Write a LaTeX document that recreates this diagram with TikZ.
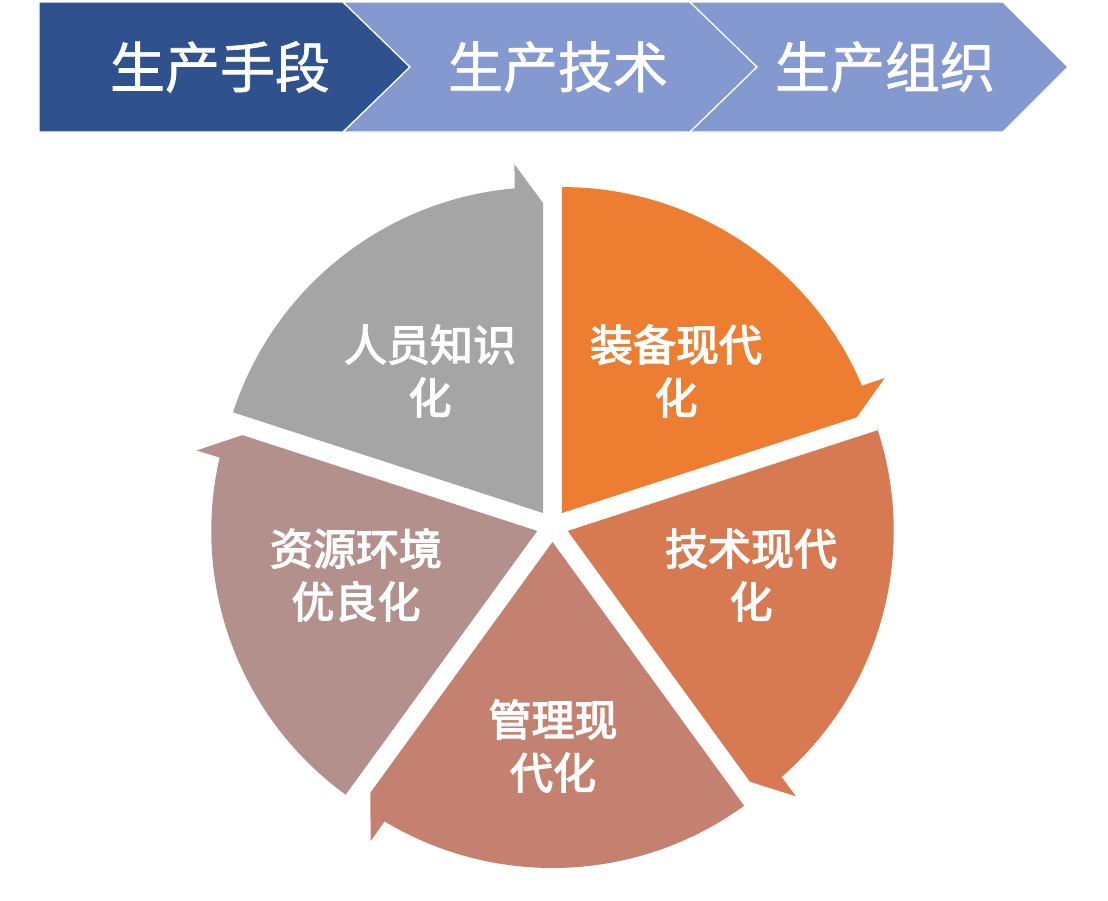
\documentclass[tikz,border=0pt]{standalone}
\usepackage{fontspec}
\newfontfamily\cjkh[FakeBold=1.2]{Noto Sans CJK SC}
\newfontfamily\cjkl[FakeBold=3]{Noto Sans CJK SC}
\definecolor{segA}{RGB}{237,125,49}
\definecolor{segB}{RGB}{216,122,81}
\definecolor{segC}{RGB}{197,129,112}
\definecolor{segD}{RGB}{180,144,140}
\definecolor{segE}{RGB}{165,165,165}
\definecolor{chevDark}{RGB}{47,82,143}
\definecolor{chevLight}{RGB}{131,153,207}
\begin{document}
\begin{tikzpicture}[x=1pt,y=1pt,
  chevdark/.style={fill=chevDark,draw=white,line width=1.2pt},
  chevlight/.style={fill=chevLight,draw=white,line width=1.2pt},
  hdr/.style={text=white,font=\cjkh\fontsize{55}{60}\selectfont,inner sep=0pt},
  seglabel/.style={text=white,font=\cjkl\fontsize{43}{53}\selectfont,align=center,inner sep=0pt}]
\useasboundingbox (0,0) rectangle (1108,-900);
\fill[white] (0,0) rectangle (1108,-900);
% chevrons
\path[chevdark] (39,-2) -- (343,-2) -- (410,-67) -- (343,-132) -- (39,-132) -- cycle;
\path[chevlight] (343,-2) -- (690,-2) -- (757,-67) -- (690,-132) -- (343,-132) -- (410,-67) -- cycle;
\path[chevlight] (690,-2) -- (1003,-2) -- (1068,-67) -- (1003,-132) -- (690,-132) -- (757,-67) -- cycle;
\node[hdr] (h1) at (220,-67) {生产手段};
\node[hdr] (h2) at (558,-67) {生产技术};
\node[hdr] (h3) at (885,-67) {生产组织};
% pie segments
\foreach \i/\col in {0/segA,1/segB,2/segC,3/segD,4/segE}{
  \pgfmathsetmacro\s{90-72*\i}
  \pgfmathsetmacro\e{\s-72}
  \pgfmathsetmacro\b{\s-36}
  \pgfmathsetmacro\n{\e+5}
  \pgfmathsetmacro\t{\e+4.7}
  \begin{scope}[shift={(552.5,-526)}, shift={(\b:16pt)}]
    \fill[\col] (0,0) -- (\s:326pt) arc[start angle=\s, end angle=\n, radius=326pt] -- (\t:350pt) -- (\e:310pt) -- cycle;
  \end{scope}
}
\node[seglabel] (l1) at (676,-371) {装备现代\\化};
\node[seglabel] (l2) at (751,-575) {技术现代\\化};
\node[seglabel] (l3) at (553,-746) {管理现\\代化};
\node[seglabel] (l4) at (356,-575) {资源环境\\优良化};
\node[seglabel] (l5) at (430,-371) {人员知识\\化};
\end{tikzpicture}
\end{document}
